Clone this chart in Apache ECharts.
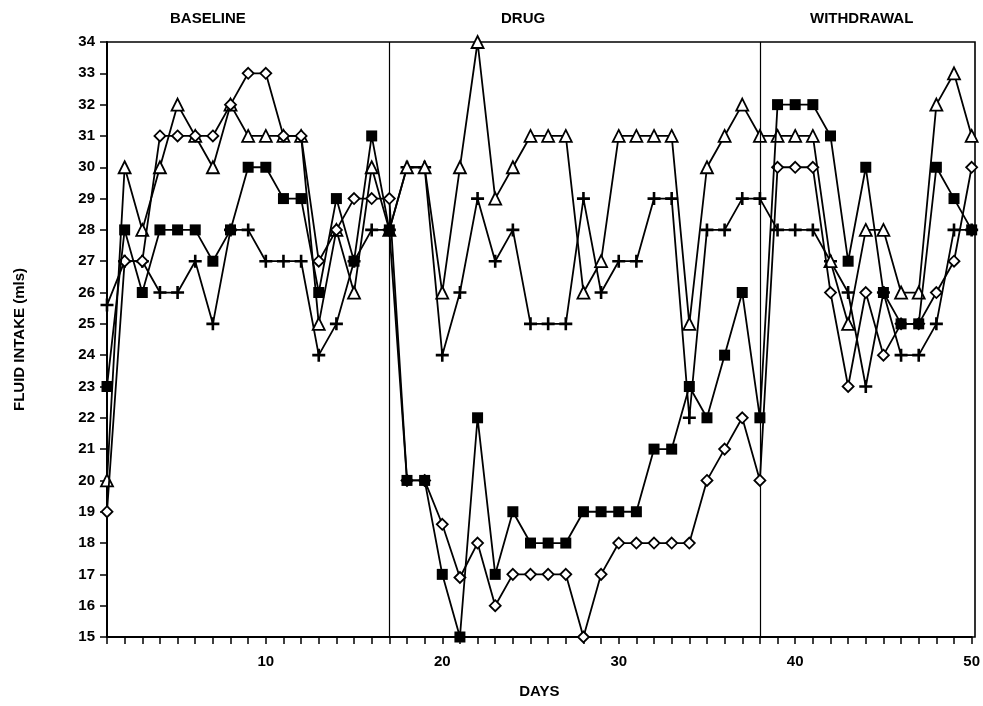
<!DOCTYPE html>
<html>
<head>
<meta charset="utf-8">
<script src="https://cdn.jsdelivr.net/npm/echarts@6/dist/echarts.min.js"></script>
<style>
html,body{margin:0;padding:0;background:#fff;}
#chart{width:983px;height:706px;}
</style>
</head>
<body>
<div id="chart"></div>
<script>
// Days 1..50
const days = Array.from({length: 50}, (_, i) => i + 1);

// Filled squares
const squareSeries = [23,28,26,28,28,28,27,28,30,30,29,29,26,29,27,31,28,
  20,20,17,15,22,17,19,18,18,18,19,19,19,19,21,21,23,22,24,26,22,
  32,32,32,31,27,30,26,25,25,30,29,28];
// Open diamonds
const diamondSeries = [19,27,27,31,31,31,31,32,33,33,31,31,27,28,29,29,29,
  20,20,18.6,16.9,18,16,17,17,17,17,15,17,18,18,18,18,18,20,21,22,20,
  30,30,30,26,23,26,24,25,25,26,27,30];
// Open triangles
const triangleSeries = [20,30,28,30,32,31,30,32,31,31,31,31,25,28,26,30,28,
  30,30,26,30,34,29,30,31,31,31,26,27,31,31,31,31,25,30,31,32,31,
  31,31,31,27,25,28,28,26,26,32,33,31];
// Plus signs
const plusSeries = [25.6,27,27,26,26,27,25,28,28,27,27,27,24,25,27,28,28,
  30,30,24,26,29,27,28,25,25,25,29,26,27,27,29,29,22,28,28,29,29,
  28,28,28,27,26,23,26,24,24,25,28,28];

const phaseBoundaries = [17, 38];
const phaseLabels = ['BASELINE', 'DRUG', 'WITHDRAWAL'];
const yTicks = {min: 15, max: 34, interval: 1};
const xTickLabels = [10, 20, 30, 40, 50];

const FONT = "'Liberation Sans Narrow', 'Liberation Sans', 'DejaVu Sans Condensed', Arial, sans-serif";
const pair = arr => arr.map((v, i) => [days[i], v]);

const plusPath = 'path://M4,0 H6 V4 H10 V6 H6 V10 H4 V6 H0 V4 H4 Z';

function mkSeries(name, data, symbol, size, fill, z) {
  return {
    name, type: 'line', data: pair(data),
    symbol, symbolSize: size, showAllSymbol: true,
    lineStyle: {color: '#000', width: 1.8},
    itemStyle: {color: fill, borderColor: '#000', borderWidth: fill === '#000' ? 0 : 1.8},
    z, animation: false
  };
}

const chart = echarts.init(document.getElementById('chart'), null, {renderer: 'canvas'});
const series = [
  mkSeries('plus', plusSeries, plusPath, 13, '#000', 3),
  mkSeries('triangle', triangleSeries, 'triangle', 12, '#fff', 4),
  mkSeries('diamond', diamondSeries, 'diamond', 11, '#fff', 5),
  mkSeries('square', squareSeries, 'rect', 11, '#000', 6)
];
series[0].markLine = {
  silent: true, symbol: 'none', animation: false,
  label: {show: false},
  lineStyle: {color: '#000', width: 1.2, type: 'solid'},
  data: phaseBoundaries.map(d => ({xAxis: d}))
};

chart.setOption({
  animation: false,
  backgroundColor: '#fff',
  grid: {left: 107, right: 8, top: 42, bottom: 69},
  xAxis: {
    type: 'value', min: 1, max: 50, interval: 1,
    name: 'DAYS', nameLocation: 'middle', nameGap: 47,
    nameTextStyle: {color: '#000', fontFamily: FONT, fontWeight: 'bold', fontSize: 15},
    axisLine: {show: true, onZero: false, lineStyle: {color: '#000', width: 2}},
    axisTick: {show: true, inside: false, length: 7, lineStyle: {color: '#000', width: 1.5}},
    axisLabel: {
      color: '#000', fontFamily: FONT, fontWeight: 'bold', fontSize: 15, margin: 17,
      showMinLabel: true, showMaxLabel: true,
      formatter: v => (xTickLabels.indexOf(v) >= 0 ? String(v) : '')
    },
    splitLine: {show: false}
  },
  yAxis: {
    type: 'value', min: yTicks.min, max: yTicks.max, interval: yTicks.interval,
    name: 'FLUID INTAKE (mls)', nameLocation: 'middle', nameGap: 80, nameRotate: 90,
    nameTextStyle: {color: '#000', fontFamily: FONT, fontWeight: 'bold', fontSize: 15},
    axisLine: {show: true, lineStyle: {color: '#000', width: 2}},
    axisTick: {show: true, inside: false, length: 7, lineStyle: {color: '#000', width: 1.5}},
    axisLabel: {color: '#000', fontFamily: FONT, fontWeight: 'bold', fontSize: 15, margin: 12},
    splitLine: {show: false}
  },
  graphic: [
    {type: 'rect', shape: {x: 107, y: 42, width: 868, height: 595}, style: {fill: 'none', stroke: '#000', lineWidth: 1.6}, silent: true, z: 1},
    {type: 'text', left: 170, top: 11, style: {text: phaseLabels[0], fill: '#000', font: 'bold 15px ' + FONT}},
    {type: 'text', left: 501, top: 11, style: {text: phaseLabels[1], fill: '#000', font: 'bold 15px ' + FONT}},
    {type: 'text', left: 810, top: 11, style: {text: phaseLabels[2], fill: '#000', font: 'bold 15px ' + FONT}}
  ],
  series
});
</script>
</body>
</html>
